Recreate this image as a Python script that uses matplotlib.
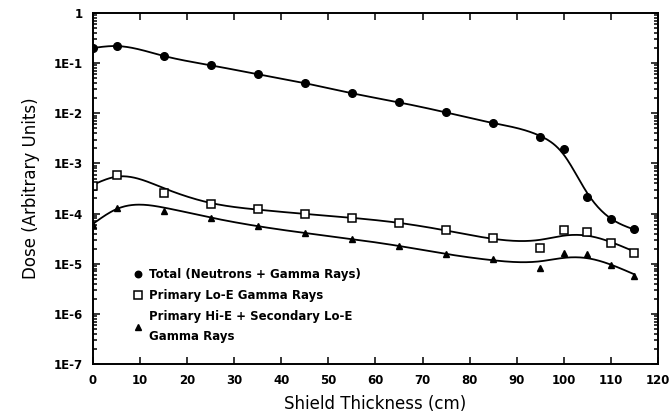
import numpy as np
import matplotlib
matplotlib.use("Agg")
import matplotlib.pyplot as plt
from matplotlib.ticker import LogLocator, NullFormatter

# datos
espesor = [0, 5, 15, 25, 35, 45, 55, 65, 75, 85, 95, 100, 105, 110, 115]   # cm

total = [0.20, 0.22, 0.137, 0.091, 0.060, 0.040, 0.025, 0.0165, 0.0104,
         0.0063, 0.0033, 0.0019, 2.1e-4, 7.8e-5, 5.0e-5]
lo_e = [3.6e-4, 5.8e-4, 2.6e-4, 1.55e-4, 1.24e-4, 9.8e-5, 8.2e-5, 6.6e-5,
        4.7e-5, 3.2e-5, 2.1e-5, 4.7e-5, 4.3e-5, 2.6e-5, 1.6e-5]
hi_e = [6.0e-5, 1.3e-4, 1.13e-4, 8.1e-5, 5.6e-5, 4.1e-5, 3.1e-5, 2.3e-5,
        1.55e-5, 1.23e-5, 8.1e-6, 1.6e-5, 1.55e-5, 9.3e-6, 5.6e-6]

etiquetas = ['Total (Neutrons + Gamma Rays)',
             'Primary Lo-E Gamma Rays',
             'Primary Hi-E + Secondary Lo-E\nGamma Rays']

y_ticks = [1e-7, 1e-6, 1e-5, 1e-4, 1e-3, 1e-2, 1e-1, 1]
y_ticks_text = ['1E-7', '1E-6', '1E-5', '1E-4', '1E-3', '1E-2', '1E-1', '1']
x_ticks = list(range(0, 121, 10))


# spline de suavizado (penalizacion de 2da diferencia) sobre log10
# los dos primeros puntos pesan mas para seguir el maximo en x=5
def suavizar(x, y, lam):
    h = 0.25
    xs = np.arange(0, max(x) + h / 2, h)
    n = len(xs)
    W = np.zeros(n)
    z = np.zeros(n)
    for xi, yi in zip(x, y):
        k = int(round(xi / h))
        W[k] = 10.0 if xi <= 5 else 1.0
        z[k] = np.log10(yi)
    D = np.diff(np.eye(n), 2, axis=0)
    M = np.diag(W) + lam * D.T @ D
    return xs, 10 ** np.linalg.solve(M, W * z)


fig = plt.figure(figsize=(6.71, 4.18), dpi=100)
ax = fig.add_axes([0.1386, 0.1292, 0.842, 0.8397])

for serie, lam in ((total, 500), (lo_e, 5000), (hi_e, 5000)):
    xs, ys = suavizar(espesor, serie, lam)
    ax.plot(xs, ys, c='k', lw=1.3)

ax.plot(espesor, total, 'o', ms=5.5, c='k', label=etiquetas[0])
ax.plot(espesor, lo_e, 's', ms=6, mfc='white', mec='k', mew=1.1, label=etiquetas[1])
ax.plot(espesor, hi_e, '^', ms=5, c='k', label=etiquetas[2])

ax.set_yscale('log')
ax.set_xlim(0, 120)
ax.set_ylim(1e-7, 1)
ax.set_xticks(x_ticks)
ax.set_xticklabels([str(v) for v in x_ticks], fontweight='bold', fontsize=8.5)
ax.set_yticks(y_ticks)
ax.set_yticklabels(y_ticks_text, fontweight='bold', fontsize=8.5)
ax.yaxis.set_minor_locator(LogLocator(base=10, subs=np.arange(2, 10)))
ax.yaxis.set_minor_formatter(NullFormatter())
ax.tick_params(which='both', direction='in', top=True, right=True, width=1.1)
ax.tick_params(which='major', length=5, pad=7)
ax.tick_params(which='minor', length=3)
for s in ax.spines.values():
    s.set_linewidth(1.4)

ax.set_xlabel('Shield Thickness (cm)', fontsize=12, labelpad=6)
ax.set_ylabel('Dose (Arbitrary Units)', fontsize=12, labelpad=10)

leg = ax.legend(loc='lower left', bbox_to_anchor=(0.055, 0.03), frameon=False,
                handlelength=0.6, handletextpad=0.6, labelspacing=0.65,
                markerscale=0.85, prop={'size': 8.5, 'weight': 'bold'})
leg.get_texts()[2].set_linespacing(1.7)

plt.savefig('out.png', dpi=100)
